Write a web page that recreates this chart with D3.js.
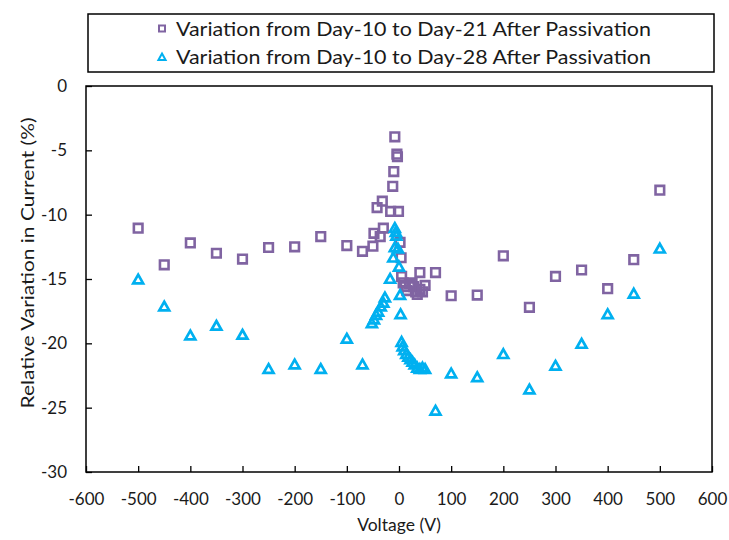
<!DOCTYPE html>
<html>
<head>
<meta charset="utf-8">
<script src="https://cdn.jsdelivr.net/npm/d3@7"></script>
<style>
  html, body { margin: 0; padding: 0; background: #fff; }
  svg { display: block; font-family: Lato, "Open Sans", sans-serif; }
</style>
</head>
<body>
<svg id="chart" width="729" height="540"></svg>
<script>
// Variation from Day-10 to Day-21 after passivation
const voltage21 = [-500, -450, -400, -350, -300, -250, -200, -150, -100, -70, -50, -48, -36, -30, -42, -32, -16, -1, -12, -10, -4, -3, -8, 2, 4,
  5, 8, 12, 15, 20, 25, 28, 32, 35, 40, 45, 50, 40, 70,
  100, 150, 200, 250, 300, 350, 400, 450, 500];
const variation21 = [-11.05, -13.9, -12.2, -13.0, -13.45, -12.55, -12.5, -11.7, -12.4, -12.85, -12.45, -11.45, -11.7, -11.05, -9.45, -8.95, -9.75, -9.75, -7.8, -6.65, -5.3, -5.5, -3.95, -12.15, -13.35,
  -14.8, -15.3, -15.6, -15.9, -15.4, -15.3, -15.6, -16.0, -16.2, -15.8, -16.0, -15.5, -14.5, -14.5,
  -16.3, -16.25, -13.2, -17.2, -14.8, -14.3, -15.75, -13.5, -8.1];

// Variation from Day-10 to Day-28 after passivation
const voltage28 = [-500, -450, -400, -350, -300, -250, -200, -150, -100, -70,
  -52, -48, -44, -40, -35, -30, -27,
  -17, -11, -8, -2, -8, -6, -5, 0, 2, 3,
  5, 7, 10, 14, 18, 22, 26, 30, 35, 40, 45, 50,
  70, 100, 150, 200, 250, 300, 350, 400, 450, 500];
const variation28 = [-15.0, -17.1, -19.35, -18.6, -19.3, -21.95, -21.6, -21.95, -19.6, -21.6,
  -18.4, -18.1, -17.75, -17.5, -17.1, -16.8, -16.4,
  -14.95, -13.3, -12.5, -12.6, -11.0, -11.3, -11.6, -14.0, -16.2, -17.7,
  -19.85, -20.2, -20.5, -20.8, -21.0, -21.2, -21.4, -21.6, -21.85, -21.95, -21.85, -21.95,
  -25.2, -22.3, -22.6, -20.8, -23.55, -21.7, -20.0, -17.7, -16.1, -12.6];

const xTicks = [-600, -500, -400, -300, -200, -100, 0, 100, 200, 300, 400, 500, 600];
const yTicks = [0, -5, -10, -15, -20, -25, -30];

const seriesNames = [
  "Variation from Day-10 to Day-21 After Passivation",
  "Variation from Day-10 to Day-28 After Passivation"
];
const purple = "#8064A2";
const cyan = "#00B0F0";
const textColor = "#1a1a1a";

const svg = d3.select("#chart");
const plot = { left: 86, right: 712, top: 86, bottom: 472 };

const x = d3.scaleLinear().domain([-600, 600]).range([plot.left, plot.right]);
const y = d3.scaleLinear().domain([-30, 0]).range([plot.bottom, plot.top]);

// Plain hyphen-minus labels
const fmt = d => String(d);

// Axes with inward ticks
const xAxis = svg.append("g")
  .attr("transform", `translate(0,${plot.bottom})`)
  .call(d3.axisBottom(x).tickValues(xTicks).tickSizeInner(-6).tickSizeOuter(0).tickPadding(21).tickFormat(fmt));
const yAxis = svg.append("g")
  .attr("transform", `translate(${plot.left},0)`)
  .call(d3.axisLeft(y).tickValues(yTicks).tickSizeInner(-6).tickSizeOuter(0).tickPadding(19).tickFormat(fmt));

[xAxis, yAxis].forEach(g => {
  g.select(".domain").remove();
  g.selectAll(".tick line").attr("stroke", "#000").attr("stroke-width", 1.3);
  g.selectAll(".tick text").attr("fill", textColor).style("font-size", "17px").style("font-family", "Lato, sans-serif");
});
xAxis.selectAll(".tick text").attr("dy", "0.71em");

// Plot frame
svg.append("rect")
  .attr("x", plot.left).attr("y", plot.top)
  .attr("width", plot.right - plot.left).attr("height", plot.bottom - plot.top)
  .attr("fill", "none").attr("stroke", "#000").attr("stroke-width", 1.5);

// Marker shapes
const squarePath = s => `M${-s},${-s}H${s}V${s}H${-s}Z`;
const trianglePath = s => `M0,${-s}L${s * 1.05},${s * 0.85}L${-s * 1.05},${s * 0.85}Z`;

const data21 = voltage21.map((v, i) => ({ v, r: variation21[i] }));
const data28 = voltage28.map((v, i) => ({ v, r: variation28[i] }));

svg.append("g").selectAll("path")
  .data(data21).join("path")
  .attr("d", squarePath(4.3))
  .attr("transform", d => `translate(${x(d.v)},${y(d.r)})`)
  .attr("fill", "none").attr("stroke", purple).attr("stroke-width", 2.6);

svg.append("g").selectAll("path")
  .data(data28).join("path")
  .attr("d", trianglePath(4.7))
  .attr("transform", d => `translate(${x(d.v)},${y(d.r) + 0.4})`)
  .attr("fill", "none").attr("stroke", cyan).attr("stroke-width", 2.7).attr("stroke-linejoin", "miter");

// Axis titles
svg.append("text")
  .attr("x", 399).attr("y", 531)
  .attr("text-anchor", "middle").attr("fill", textColor)
  .style("font-size", "17.5px")
  .text("Voltage (V)");
svg.append("text")
  .attr("transform", "translate(34,263) rotate(-90)")
  .attr("text-anchor", "middle").attr("fill", textColor)
  .attr("textLength", 291).attr("lengthAdjust", "spacingAndGlyphs")
  .style("font-size", "18px")
  .text("Relative Variation in Current (%)");

// Legend
const legend = svg.append("g");
legend.append("rect")
  .attr("x", 88).attr("y", 14).attr("width", 626).attr("height", 58)
  .attr("fill", "#fff").attr("stroke", "#000").attr("stroke-width", 1.5);
const legendRows = [
  { name: seriesNames[0], color: purple, shape: squarePath(3), cy: 28.5 },
  { name: seriesNames[1], color: cyan, shape: trianglePath(3.4), cy: 57 }
];
legendRows.forEach(r => {
  legend.append("path")
    .attr("d", r.shape)
    .attr("transform", `translate(162,${r.cy})`)
    .attr("fill", "none").attr("stroke", r.color).attr("stroke-width", 2);
  legend.append("text")
    .attr("x", 176).attr("y", r.cy + 7)
    .attr("fill", textColor)
    .attr("textLength", 475).attr("lengthAdjust", "spacingAndGlyphs")
    .style("font-size", "19px")
    .text(r.name);
});
</script>
</body>
</html>
